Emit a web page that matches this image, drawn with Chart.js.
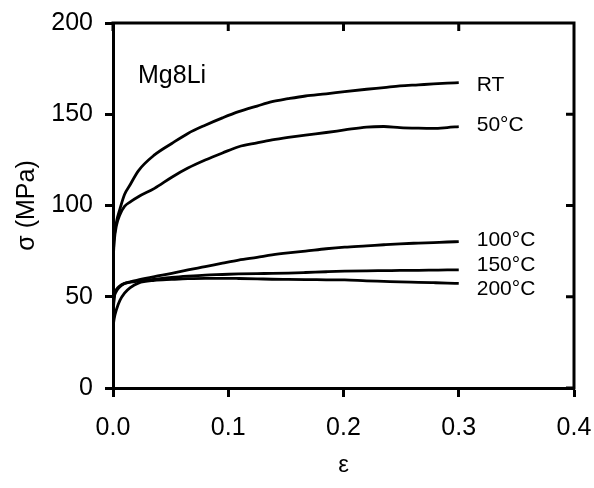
<!DOCTYPE html>
<html>
<head>
<meta charset="utf-8">
<title>Mg8Li stress-strain</title>
<script src="https://cdn.jsdelivr.net/npm/chart.js@4.4.1/dist/chart.umd.min.js"></script>
<style>
  html, body { margin: 0; padding: 0; background: #fff; }
  canvas { display: block; }
</style>
</head>
<body>
<canvas id="chartCurvas" width="594" height="488"></canvas>
<script>
// strain grid shared by every curve
const strain = [0, 0.001, 0.003, 0.006, 0.01, 0.015, 0.022, 0.036, 0.051, 0.065, 0.08, 0.095,
  0.109, 0.125, 0.138, 0.152, 0.167, 0.185, 0.201, 0.22, 0.235, 0.249, 0.265, 0.278, 0.29, 0.3];

// flow stress (MPa) at each strain, one array per test temperature
const stressRT = [70, 82, 91, 98, 106, 111.5, 119, 127.7, 134, 139.5, 144, 148,
  151.4, 154.5, 156.9, 158.5, 160, 161.2, 162.4, 163.7, 164.6, 165.5, 166.1, 166.6, 167, 167.3];
const stress50 = [68, 80, 89, 95, 99.5, 102, 104.8, 109.4, 115.5, 120.5, 124.9, 128.8,
  132.2, 134.3, 135.9, 137.3, 138.6, 140, 141.4, 143, 143.3, 142.7, 142.4, 142.3, 142.7, 143.2];
const stress100 = [40, 49, 53, 55.5, 57.2, 58.2, 59.2, 61, 62.8, 64.7, 66.5, 68.4,
  70.1, 71.6, 72.9, 74, 75, 76.3, 77.2, 77.9, 78.5, 79, 79.4, 79.7, 80, 80.2];
const stress150 = [42, 50, 54, 56, 57.3, 58, 58.6, 59.6, 60.6, 61.3, 61.9, 62.2,
  62.5, 62.7, 62.8, 63, 63.3, 63.7, 64, 64.2, 64.3, 64.4, 64.5, 64.6, 64.7, 64.7];
const stress200 = [33, 38, 43, 48, 52, 55, 57.5, 59, 59.5, 59.9, 60.1, 60.1,
  60, 59.8, 59.6, 59.5, 59.4, 59.3, 59.2, 58.7, 58.4, 58.1, 57.9, 57.7, 57.5, 57.3];

const seriesNames = ['RT', '50°C', '100°C', '150°C', '200°C'];
const seriesStress = [stressRT, stress50, stress100, stress150, stress200];
const alloyName = 'Mg8Li';

const FONT = '"Liberation Sans", Arial, Helvetica, sans-serif';
// vertical nudge of each end label so the lower three don't collide
const labelNudge = [3, -1, -1, -5, 6];

// box frame: top + right borders with inward ticks, plus the text annotations
const framePlugin = {
  id: 'frame',
  afterDraw(chart) {
    const { ctx, chartArea: a, scales: { x, y } } = chart;
    ctx.save();
    ctx.strokeStyle = '#000';
    ctx.lineWidth = 3;
    ctx.beginPath();
    ctx.moveTo(a.left - 1.5, a.top);
    ctx.lineTo(a.right, a.top);
    ctx.lineTo(a.right, a.bottom + 1.5);
    x.ticks.forEach(t => {
      const px = x.getPixelForValue(t.value);
      ctx.moveTo(px, a.top);
      ctx.lineTo(px, a.top + 8);
    });
    y.ticks.forEach(t => {
      const py = y.getPixelForValue(t.value);
      ctx.moveTo(a.right, py);
      ctx.lineTo(a.right - 8, py);
    });
    ctx.stroke();

    ctx.fillStyle = '#000';
    ctx.font = '25px ' + FONT;
    ctx.textBaseline = 'alphabetic';
    ctx.fillText(alloyName, a.left + 25, a.top + 60);

    ctx.font = '21px ' + FONT;
    ctx.textBaseline = 'middle';
    chart.data.datasets.forEach((ds, i) => {
      const pts = chart.getDatasetMeta(i).data;
      const end = pts[pts.length - 1];
      ctx.fillText(ds.label, end.x + 18, end.y + labelNudge[i]);
    });
    ctx.restore();
  }
};

const datasets = seriesNames.map((name, i) => ({
  label: name,
  data: strain.map((e, k) => ({ x: e, y: seriesStress[i][k] })),
  borderColor: '#000',
  borderWidth: 2.8,
  pointRadius: 0,
  fill: false,
  cubicInterpolationMode: 'monotone'
}));

const axisGrid = (len) => ({
  drawOnChartArea: false,
  drawTicks: true,
  tickLength: len,
  tickWidth: 3,
  tickColor: '#000'
});

new Chart(document.getElementById('chartCurvas'), {
  type: 'line',
  data: { datasets },
  options: {
    responsive: false,
    animation: false,
    layout: { padding: { top: 23, right: 20, left: 0, bottom: 0 } },
    plugins: { legend: { display: false }, tooltip: { enabled: false } },
    scales: {
      x: {
        type: 'linear',
        min: 0, max: 0.4,
        border: { display: true, color: '#000', width: 3 },
        grid: axisGrid(9),
        ticks: {
          stepSize: 0.1,
          color: '#000',
          padding: 16,
          maxRotation: 0,
          font: { family: FONT, size: 25 },
          callback: v => v.toFixed(1)
        },
        title: {
          display: true,
          text: 'ε',
          color: '#000',
          font: { family: FONT, size: 24 },
          padding: { top: 0, bottom: 8 }
        },
        afterFit(scale) {
          scale.height = 100;
          scale.paddingLeft = 0;
          scale.paddingRight = 0;
        }
      },
      y: {
        min: 0, max: 200,
        border: { display: true, color: '#000', width: 3 },
        grid: axisGrid(8),
        ticks: {
          stepSize: 50,
          color: '#000',
          padding: 12,
          font: { family: FONT, size: 25 }
        },
        title: {
          display: true,
          text: 'σ (MPa)',
          color: '#000',
          font: { family: FONT, size: 25 },
          padding: { top: 12, bottom: 0 }
        },
        afterFit(scale) {
          scale.width = 113;
          scale.paddingTop = 0;
          scale.paddingBottom = 0;
        }
      }
    }
  },
  plugins: [framePlugin]
});
</script>
</body>
</html>
